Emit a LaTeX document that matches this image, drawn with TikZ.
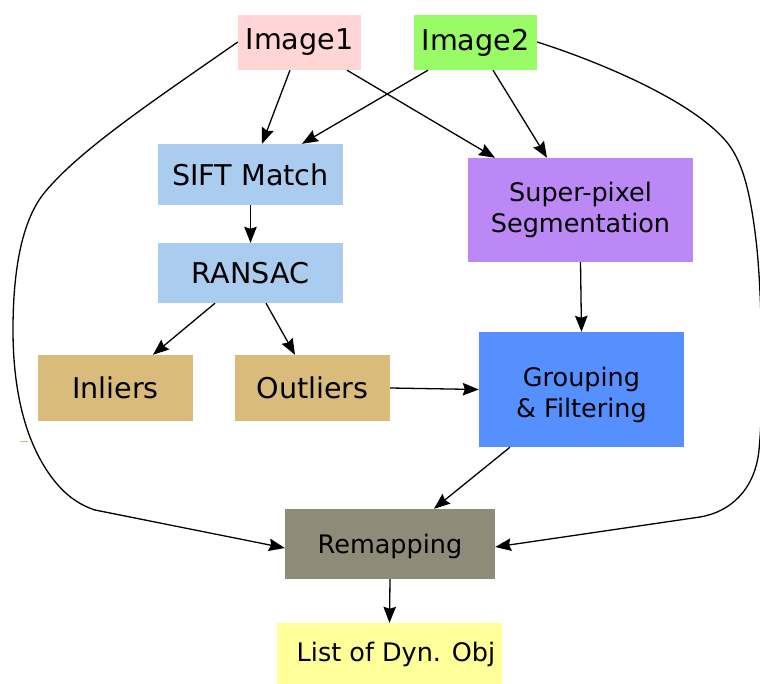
\documentclass[tikz,border=0pt]{standalone}
\usepackage{fontspec}
\setmainfont{DejaVu Sans}
\usetikzlibrary{arrows.meta}
\definecolor{cpink}{HTML}{FFD5D5}
\definecolor{cgreen}{HTML}{99FB66}
\definecolor{cblue}{HTML}{AACCEE}
\definecolor{cpurple}{HTML}{BC88F6}
\definecolor{ctan}{HTML}{D9BC7B}
\definecolor{cdblue}{HTML}{5590FE}
\definecolor{cgray}{HTML}{8F8B79}
\definecolor{cyellow}{HTML}{FFFF99}
\tikzset{
  box/.style={inner sep=0pt, align=center, text=black},
  big/.style={box, font=\fontsize{28.6}{33}\selectfont},
  mid/.style={box, font=\fontsize{25.5}{31}\selectfont},
  arr/.style={line width=1.3pt, -{Stealth[length=16pt,width=12.5pt,inset=2pt]}},
  plain/.style={line width=1.3pt}
}
\begin{document}
\begin{tikzpicture}[x=1pt,y=-1pt]
\useasboundingbox (0,0) rectangle (760,684);
\node[big, fill=cpink, minimum width=123pt, minimum height=55pt] (img1) at (299.5,42.5) {Image1};
\node[big, fill=cgreen, minimum width=123pt, minimum height=55pt] (img2) at (475.5,42.5) {Image2};
\node[big, fill=cblue, minimum width=185pt, minimum height=61pt] (sift) at (250.5,174.5) {SIFT Match};
\node[big, fill=cblue, minimum width=185pt, minimum height=60pt] (ransac) at (250.5,273) {RANSAC};
\node[mid, fill=cpurple, minimum width=225pt, minimum height=104pt] (super) at (580.5,210) {Super-pixel\\Segmentation};
\node[big, fill=ctan, minimum width=155pt, minimum height=66pt] (inl) at (115.5,388) {Inliers};
\node[big, fill=ctan, minimum width=155pt, minimum height=66pt] (outl) at (312.5,388) {Outliers};
\node[mid, fill=cdblue, minimum width=205pt, minimum height=115pt] (grp) at (581.5,389.5) {};
\node[mid, text depth=0pt] (grptext) at (581.5,392.5) {Grouping\\\& Filtering};
\node[mid, fill=cgray, minimum width=210pt, minimum height=70pt, text depth=0pt] (remap) at (390,544) {Remapping};
\node[mid, fill=cyellow, minimum width=225pt, minimum height=61pt] (list) at (389.5,653.5) {};
\node[mid, anchor=center] (listtext) at (396,654.5) {List of Dyn. Obj};
% straight connectors
\draw[arr] ([xshift=-9.5pt]img1.south) -- ([xshift=11.5pt]sift.north);
\draw[arr] ([xshift=-47.5pt]img2.south) -- ([xshift=51.5pt]sift.north);
\draw[arr] ([xshift=47.5pt]img1.south) -- ([xshift=-85.5pt]super.north);
\draw[arr] ([xshift=17.5pt]img2.south) -- ([xshift=-33.5pt]super.north);
\draw[arr] (sift.south) -- (ransac.north);
\draw[arr] ([xshift=-35.5pt]ransac.south) -- ([xshift=37.5pt]inl.north);
\draw[arr] ([xshift=15.5pt]ransac.south) -- ([xshift=-17.5pt]outl.north);
\draw[arr] (super.south) -- (grp.north);
\draw[arr] (outl.east) -- (grp.west);
\draw[arr] ([xshift=-71.5pt]grp.south) -- ([xshift=44pt]remap.north);
\draw[arr] (remap.south) -- (list.north);
% curved connectors
\coordinate (l1) at (95,510);
\draw[plain] ([yshift=0.5pt]img1.west) .. controls (150,103) and (80,150) .. (45,192)
  .. controls (25,216) and (13,260) .. (13,330)
  .. controls (13,390) and (25,440) .. (50,475)
  .. controls (65,496) and (80,505) .. (l1);
\draw[arr] (l1) -- ([yshift=-4pt]remap.west);
\coordinate (r1) at (700,517);
\draw[plain] ([yshift=0.5pt]img2.east) .. controls (600,62) and (690,100) .. (725,140)
  .. controls (742,159) and (750,190) .. (756,240)
  .. controls (762,290) and (764,400) .. (759,450)
  .. controls (755,490) and (730,512) .. (r1);
\draw[arr] (r1) -- ([yshift=-3pt]remap.east);
% small stray mark
\draw[ctan, line width=0.8pt] (20,441) -- (28,441);
\end{tikzpicture}
\end{document}
